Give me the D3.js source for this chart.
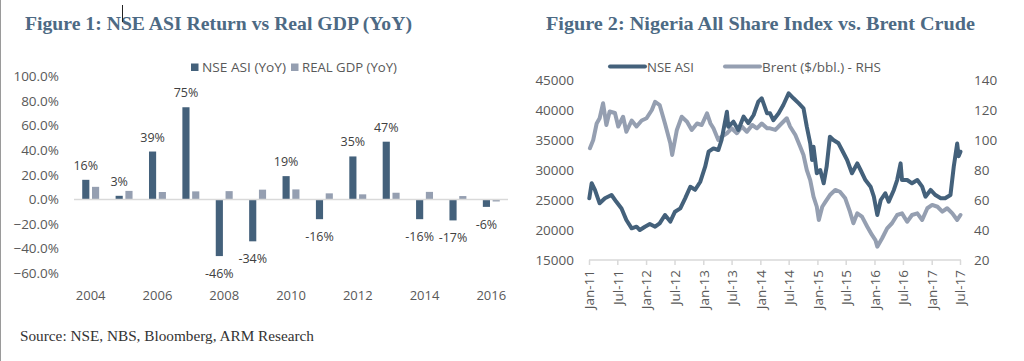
<!DOCTYPE html>
<html>
<head>
<meta charset="utf-8">
<script src="https://cdn.jsdelivr.net/npm/d3@7"></script>
<style>
  html, body { margin: 0; padding: 0; background: #fff; }
  svg { display: block; }
</style>
</head>
<body>
<svg id="chart" width="1024" height="361"></svg>
<script>
// ---------- Figure 1 data ----------
const years = [2004, 2005, 2006, 2007, 2008, 2009, 2010, 2011, 2012, 2013, 2014, 2015, 2016];
const nseReturn = [16, 3, 39, 75, -46, -34, 19, -16, 35, 47, -16, -17, -6];
const realGdp = [10.3, 7.0, 6.1, 6.6, 6.8, 8.0, 8.2, 5.0, 4.2, 5.5, 6.2, 2.8, -1.6];
const fig1YTicks = [-60, -40, -20, 0, 20, 40, 60, 80, 100];
const fig1XTicks = [2004, 2006, 2008, 2010, 2012, 2014, 2016];
const fig1Series = ["NSE ASI (YoY)", "REAL GDP (YoY)"];

// ---------- Figure 2 data ----------
const asiDates = ["2011-01-03","2011-01-18","2011-02-08","2011-03-10","2011-04-13","2011-05-25","2011-06-25","2011-07-28","2011-08-28","2011-10-01","2011-11-01","2011-11-22","2011-12-25","2012-01-25","2012-02-28","2012-03-28","2012-05-01","2012-06-04","2012-07-04","2012-08-07","2012-09-07","2012-10-10","2012-11-10","2012-12-13","2013-01-13","2013-02-04","2013-03-07","2013-04-07","2013-04-28","2013-06-01","2013-06-10","2013-07-13","2013-08-13","2013-09-16","2013-10-16","2013-11-19","2013-12-19","2014-01-10","2014-02-13","2014-03-04","2014-03-25","2014-04-28","2014-05-28","2014-07-01","2014-08-01","2014-09-04","2014-10-04","2014-10-25","2014-11-16","2014-11-28","2014-12-07","2014-12-28","2015-01-19","2015-02-10","2015-03-01","2015-03-22","2015-04-13","2015-05-16","2015-06-07","2015-07-10","2015-08-10","2015-09-13","2015-10-04","2015-11-04","2015-12-07","2015-12-28","2016-01-19","2016-02-10","2016-03-10","2016-04-01","2016-05-04","2016-05-25","2016-06-16","2016-06-25","2016-07-28","2016-08-28","2016-10-01","2016-11-01","2016-11-22","2016-12-25","2017-01-25","2017-02-28","2017-03-28","2017-05-01","2017-05-22","2017-06-13","2017-06-22","2017-07-04"];
const asiValues = [25300,27800,26700,24450,25280,25830,24700,23600,21670,20280,20550,20000,20550,21000,20550,21100,22500,21400,23050,23600,25280,27200,26700,28050,30550,33050,33600,33330,35000,39700,37200,38050,36670,38900,37800,39170,41400,41950,39450,39450,38300,39450,40830,42780,41950,41100,40280,37220,34450,31670,33880,29450,30000,27780,30550,35550,35000,34450,33330,31670,29450,31100,30000,28330,27220,25550,22500,25000,26120,24720,26670,28330,31100,28330,28330,27780,28330,27220,25550,26670,25830,25280,25280,25830,30550,34400,32300,33050];
const brentDates = ["2011-01-07","2011-01-28","2011-02-19","2011-03-10","2011-04-01","2011-04-22","2011-05-13","2011-06-16","2011-07-07","2011-08-07","2011-08-28","2011-10-01","2011-11-01","2011-12-04","2012-01-04","2012-02-07","2012-02-28","2012-03-28","2012-05-01","2012-06-04","2012-06-16","2012-07-16","2012-08-16","2012-09-19","2012-10-19","2012-11-22","2012-12-22","2013-01-25","2013-02-16","2013-03-07","2013-04-07","2013-04-28","2013-06-01","2013-07-01","2013-08-04","2013-09-04","2013-10-07","2013-11-10","2013-12-10","2014-01-10","2014-02-13","2014-03-04","2014-04-07","2014-05-07","2014-06-19","2014-07-10","2014-08-13","2014-09-13","2014-10-04","2014-10-25","2014-11-16","2014-12-07","2014-12-28","2015-01-10","2015-02-01","2015-02-22","2015-03-22","2015-04-25","2015-05-25","2015-06-28","2015-07-28","2015-08-19","2015-09-13","2015-10-13","2015-11-16","2015-12-16","2016-01-07","2016-01-19","2016-02-19","2016-03-22","2016-04-22","2016-05-25","2016-06-25","2016-07-28","2016-08-28","2016-10-01","2016-11-01","2016-12-04","2017-01-04","2017-02-07","2017-03-10","2017-04-10","2017-05-13","2017-06-13","2017-07-04"];
const brentValues = [94.5,100,111,114.5,124.5,110,119,118,109,115.5,105.5,113,109,113,114.5,120,125.5,123.3,111,97.8,90,106.7,115.5,112.2,106.7,111,110,117.8,111,107.8,100,102.2,104.5,107.8,104.5,109,105.5,110,107.8,111,107.8,107.8,106.7,110,114.5,109,103.3,95.5,90,80,73.3,62.2,55.5,46.7,55.5,58.9,63.3,66.7,65.5,61.1,52.2,44.5,51.1,48.9,42.2,36.7,33.3,28.9,34.5,41.1,44.5,50,51.1,45.5,50,51.1,46.7,54.5,56.7,55.5,52.2,54.5,51.1,46.7,50];
const fig2LeftTicks = [15000, 20000, 25000, 30000, 35000, 40000, 45000];
const fig2RightTicks = [20, 40, 60, 80, 100, 120, 140];
const fig2XTicks = ["2011-01-01","2011-07-01","2012-01-01","2012-07-01","2013-01-01","2013-07-01","2014-01-01","2014-07-01","2015-01-01","2015-07-01","2016-01-01","2016-07-01","2017-01-01","2017-07-01"];
const fig2Series = ["NSE ASI", "Brent ($/bbl.) - RHS"];

// ---------- styles ----------
const DARK = "#44617b";
const LIGHT = "#959fb1";
const TITLE = "#4d6a84";
const AXISTXT = "#595959";
const GRID = "#d9d9d9";
const SANS = "'Open Sans', 'Liberation Sans', sans-serif";
const SERIF = "'Liberation Serif', 'DejaVu Serif', serif";

const svg = d3.select("#chart");
svg.append("rect").attr("width", 1024).attr("height", 361).attr("fill", "#fff");
svg.append("line").attr("x1", 0.5).attr("x2", 0.5).attr("y1", 0).attr("y2", 361)
  .attr("stroke", "#9a9a9a").attr("stroke-width", 1);

// ================= Figure 1 =================
const g1 = svg.append("g");
g1.append("text").attr("x", 25).attr("y", 30)
  .attr("font-family", SERIF).attr("font-weight", "bold").attr("font-size", 19.5)
  .attr("textLength", 387).attr("lengthAdjust", "spacingAndGlyphs")
  .attr("fill", TITLE).text("Figure 1: NSE ASI Return vs Real GDP (YoY)");
// text cursor artifact
g1.append("line").attr("x1", 122.5).attr("x2", 122.5).attr("y1", 5).attr("y2", 22)
  .attr("stroke", "#222").attr("stroke-width", 1);

const y1 = d3.scaleLinear().domain([-60, 100]).range([273.3, 76.5]);
const x0 = d3.scaleBand().domain(years).range([74, 508]).padding(0);
const x1 = d3.scaleBand().domain(fig1Series).range([0, x0.bandwidth()]).paddingInner(0.27).paddingOuter(0.84);

// y tick labels
g1.append("g").selectAll("text").data(fig1YTicks).join("text")
  .attr("x", 59).attr("y", d => y1(d)).attr("dy", "0.35em")
  .attr("text-anchor", "end").attr("font-family", SANS).attr("font-size", 13.5)
  .attr("fill", AXISTXT).text(d => d3.format(".1f")(d) + "%");

// bars
const rows = years.map((yr, i) => ({ yr, vals: [nseReturn[i], realGdp[i]] }));
const grp = g1.append("g").selectAll("g").data(rows).join("g")
  .attr("transform", d => `translate(${x0(d.yr)},0)`);
grp.selectAll("rect").data(d => d.vals.map((v, k) => ({ v, k }))).join("rect")
  .attr("x", d => x1(fig1Series[d.k]))
  .attr("width", x1.bandwidth())
  .attr("y", d => y1(Math.max(0, d.v)))
  .attr("height", d => Math.abs(y1(d.v) - y1(0)))
  .attr("fill", d => d.k === 0 ? DARK : LIGHT);

// zero line
g1.append("line").attr("x1", 74).attr("x2", 508).attr("y1", y1(0)).attr("y2", y1(0))
  .attr("stroke", GRID).attr("stroke-width", 1.5);

// data labels
g1.append("g").selectAll("text").data(rows).join("text")
  .attr("x", d => x0(d.yr) + x1(fig1Series[0]) + x1.bandwidth() / 2)
  .attr("y", d => d.vals[0] >= 0 ? y1(d.vals[0]) - 10 : y1(d.vals[0]) + 22)
  .attr("text-anchor", "middle").attr("font-family", SANS).attr("font-size", 12.5)
  .attr("fill", "#404040").text(d => d.vals[0] + "%");

// x tick labels
g1.append("g").selectAll("text").data(fig1XTicks).join("text")
  .attr("x", d => x0(d) + x0.bandwidth() / 2).attr("y", 299.5)
  .attr("text-anchor", "middle").attr("font-family", SANS).attr("font-size", 13)
  .attr("fill", AXISTXT).text(d => d);

// legend
const leg1 = g1.append("g");
const leg1X = [191, 291];
const leg1W = [84, 95];
fig1Series.forEach((s, i) => {
  leg1.append("rect").attr("x", leg1X[i]).attr("y", 63.5).attr("width", 7.5).attr("height", 7.5)
    .attr("fill", i === 0 ? DARK : LIGHT);
  leg1.append("text").attr("x", leg1X[i] + 11).attr("y", 71.5)
    .attr("font-family", SANS).attr("font-size", 13.5).attr("fill", AXISTXT)
    .attr("textLength", leg1W[i]).attr("lengthAdjust", "spacingAndGlyphs").text(s);
});

// source
svg.append("text").attr("x", 20).attr("y", 341)
  .attr("font-family", SERIF).attr("font-size", 15).attr("fill", "#333")
  .attr("textLength", 294).attr("lengthAdjust", "spacingAndGlyphs")
  .text("Source: NSE, NBS, Bloomberg, ARM Research");

// ================= Figure 2 =================
const g2 = svg.append("g");
g2.append("text").attr("x", 546).attr("y", 30)
  .attr("font-family", SERIF).attr("font-weight", "bold").attr("font-size", 19.5)
  .attr("textLength", 429).attr("lengthAdjust", "spacingAndGlyphs")
  .attr("fill", TITLE).text("Figure 2: Nigeria All Share Index vs. Brent Crude");

const parse = d3.timeParse("%Y-%m-%d");
const xT = d3.scaleTime().domain([parse("2011-01-01"), parse("2017-07-01")]).range([589, 960]);
const yL = d3.scaleLinear().domain([15000, 45000]).range([260, 80]);
const yR = d3.scaleLinear().domain([20, 140]).range([260, 80]);

// left ticks
g2.append("g").selectAll("text").data(fig2LeftTicks).join("text")
  .attr("x", 574).attr("y", d => yL(d)).attr("dy", "0.35em")
  .attr("text-anchor", "end").attr("font-family", SANS).attr("font-size", 13.5)
  .attr("fill", AXISTXT).text(d => d);
// right ticks
g2.append("g").selectAll("text").data(fig2RightTicks).join("text")
  .attr("x", 974).attr("y", d => yR(d)).attr("dy", "0.35em")
  .attr("text-anchor", "start").attr("font-family", SANS).attr("font-size", 13.5)
  .attr("fill", AXISTXT).text(d => d);

// x axis
const xAxis = d3.axisBottom(xT).tickValues(fig2XTicks.map(parse))
  .tickFormat(d3.timeFormat("%b-%y")).tickSizeInner(5).tickSizeOuter(0).tickPadding(5);
const ax = g2.append("g").attr("transform", "translate(0,260)").call(xAxis);
ax.select(".domain").attr("stroke", GRID).attr("stroke-width", 1.5)
  .attr("d", "M589,0H961");
ax.selectAll(".tick line").attr("stroke", GRID).attr("stroke-width", 1.5);
ax.selectAll(".tick text")
  .attr("font-family", SANS).attr("font-size", 13.5).attr("fill", AXISTXT)
  .attr("text-anchor", "end").attr("transform", "rotate(-90)")
  .attr("x", -10).attr("y", 0).attr("dy", "0.35em");

// lines
const brent = brentDates.map((d, i) => ({ d: parse(d), v: brentValues[i] }));
const asi = asiDates.map((d, i) => ({ d: parse(d), v: asiValues[i] }));
g2.append("path").datum(brent)
  .attr("d", d3.line().x(d => xT(d.d)).y(d => yR(d.v)).curve(d3.curveLinear))
  .attr("fill", "none").attr("stroke", LIGHT).attr("stroke-width", 4)
  .attr("stroke-linejoin", "round").attr("stroke-linecap", "round");
g2.append("path").datum(asi)
  .attr("d", d3.line().x(d => xT(d.d)).y(d => yL(d.v)).curve(d3.curveLinear))
  .attr("fill", "none").attr("stroke", DARK).attr("stroke-width", 4)
  .attr("stroke-linejoin", "round").attr("stroke-linecap", "round");

// legend
const leg2 = g2.append("g");
const leg2X = [610, 725];
const leg2W = [47, 119];
fig2Series.forEach((s, i) => {
  leg2.append("line").attr("x1", leg2X[i]).attr("x2", leg2X[i] + 35)
    .attr("y1", 66.5).attr("y2", 66.5)
    .attr("stroke", i === 0 ? DARK : LIGHT).attr("stroke-width", 4).attr("stroke-linecap", "round");
  leg2.append("text").attr("x", leg2X[i] + 37).attr("y", 71.5)
    .attr("font-family", SANS).attr("font-size", 13.5).attr("fill", AXISTXT)
    .attr("textLength", leg2W[i]).attr("lengthAdjust", "spacingAndGlyphs").text(s);
});
</script>
</body>
</html>
